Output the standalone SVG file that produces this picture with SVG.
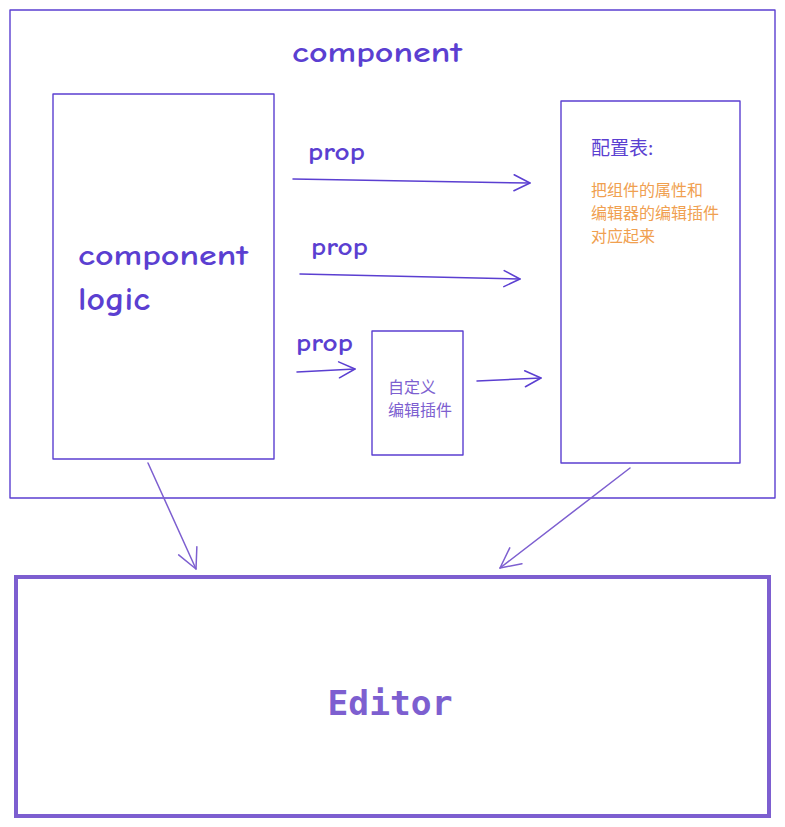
<svg xmlns="http://www.w3.org/2000/svg" width="785" height="827" viewBox="0 0 785 827">
<style>
.box{fill:none;stroke:#5b3fd1;stroke-width:1.4;stroke-linejoin:round}
.hand{font-family:"Comic Neue","Noto Sans","Liberation Sans",sans-serif;fill:#5b3fd1;font-weight:bold}
.cjk{font-family:"Noto Sans CJK SC","Noto Sans",sans-serif}
.conn{fill:none;stroke:#5b3fd1;stroke-width:1.5;stroke-linecap:round}
.conn2{fill:none;stroke:#7d5fd0;stroke-width:1.5;stroke-linecap:round}
</style>
<defs>
<marker id="ah" viewBox="0 0 20 20" refX="18" refY="10" markerWidth="20" markerHeight="20" markerUnits="userSpaceOnUse" orient="auto">
<path d="M2,2 L18,10 L2,18" fill="none" stroke="#5b3fd1" stroke-width="1.5" stroke-linecap="round" stroke-linejoin="round"/>
</marker>
<marker id="ah2" viewBox="0 0 24 24" refX="22" refY="12" markerWidth="24" markerHeight="24" markerUnits="userSpaceOnUse" orient="auto">
<path d="M2,2 L22,12 L2,22" fill="none" stroke="#7d5fd0" stroke-width="1.5" stroke-linecap="round" stroke-linejoin="round"/>
</marker>
</defs>
<g id="component-frame">
<rect class="box" x="10" y="10" width="765" height="488"/>
<text class="hand" x="377" y="62" font-size="28" text-anchor="middle" textLength="170" lengthAdjust="spacingAndGlyphs">component</text>
</g>
<g id="component-logic">
<rect class="box" x="53" y="94" width="221" height="365"/>
<text class="hand" x="78" y="265" font-size="28" textLength="170" lengthAdjust="spacingAndGlyphs">component</text>
<text class="hand" x="78" y="310" font-size="32" textLength="72" lengthAdjust="spacingAndGlyphs">logic</text>
</g>
<g id="config-table">
<rect class="box" x="561" y="101" width="179" height="362"/>
<text class="cjk" x="591" y="155" font-size="19" fill="#5b3fd1">配置表:</text>
<text class="cjk" x="591" y="196" font-size="16" fill="#f0a050">把组件的属性和</text>
<text class="cjk" x="591" y="219" font-size="16" fill="#f0a050">编辑器的编辑插件</text>
<text class="cjk" x="591" y="242" font-size="16" fill="#f0a050">对应起来</text>
</g>
<g id="custom-editor-plugin">
<rect class="box" x="372" y="331" width="91" height="124"/>
<text class="cjk" x="388" y="393" font-size="16" fill="#7d5fd0">自定义</text>
<text class="cjk" x="388" y="416" font-size="16" fill="#7d5fd0">编辑插件</text>
</g>
<g id="editor">
<rect x="16" y="577" width="753" height="239" fill="none" stroke="#7d5fd0" stroke-width="4"/>
<text x="390" y="715" font-family="'DejaVu Sans Mono','Liberation Mono',monospace" font-size="34" font-weight="bold" fill="#7d5fd0" text-anchor="middle" textLength="125" lengthAdjust="spacingAndGlyphs">Editor</text>
</g>
<g id="connectors">
<path class="conn" d="M293,179 L530,183" marker-end="url(#ah)"/>
<text class="hand" x="308" y="160" font-size="24" textLength="57" lengthAdjust="spacingAndGlyphs">prop</text>
<path class="conn" d="M300,274 L520,279" marker-end="url(#ah)"/>
<text class="hand" x="311" y="255" font-size="24" textLength="57" lengthAdjust="spacingAndGlyphs">prop</text>
<path class="conn" d="M297,372 L355,369" marker-end="url(#ah)"/>
<text class="hand" x="296" y="351" font-size="24" textLength="57" lengthAdjust="spacingAndGlyphs">prop</text>
<path class="conn" d="M477,381 L541,378" marker-end="url(#ah)"/>
<path class="conn2" d="M148,463 L196,569" marker-end="url(#ah2)"/>
<path class="conn2" d="M630,468 L500,568" marker-end="url(#ah2)"/>
</g>
</svg>
